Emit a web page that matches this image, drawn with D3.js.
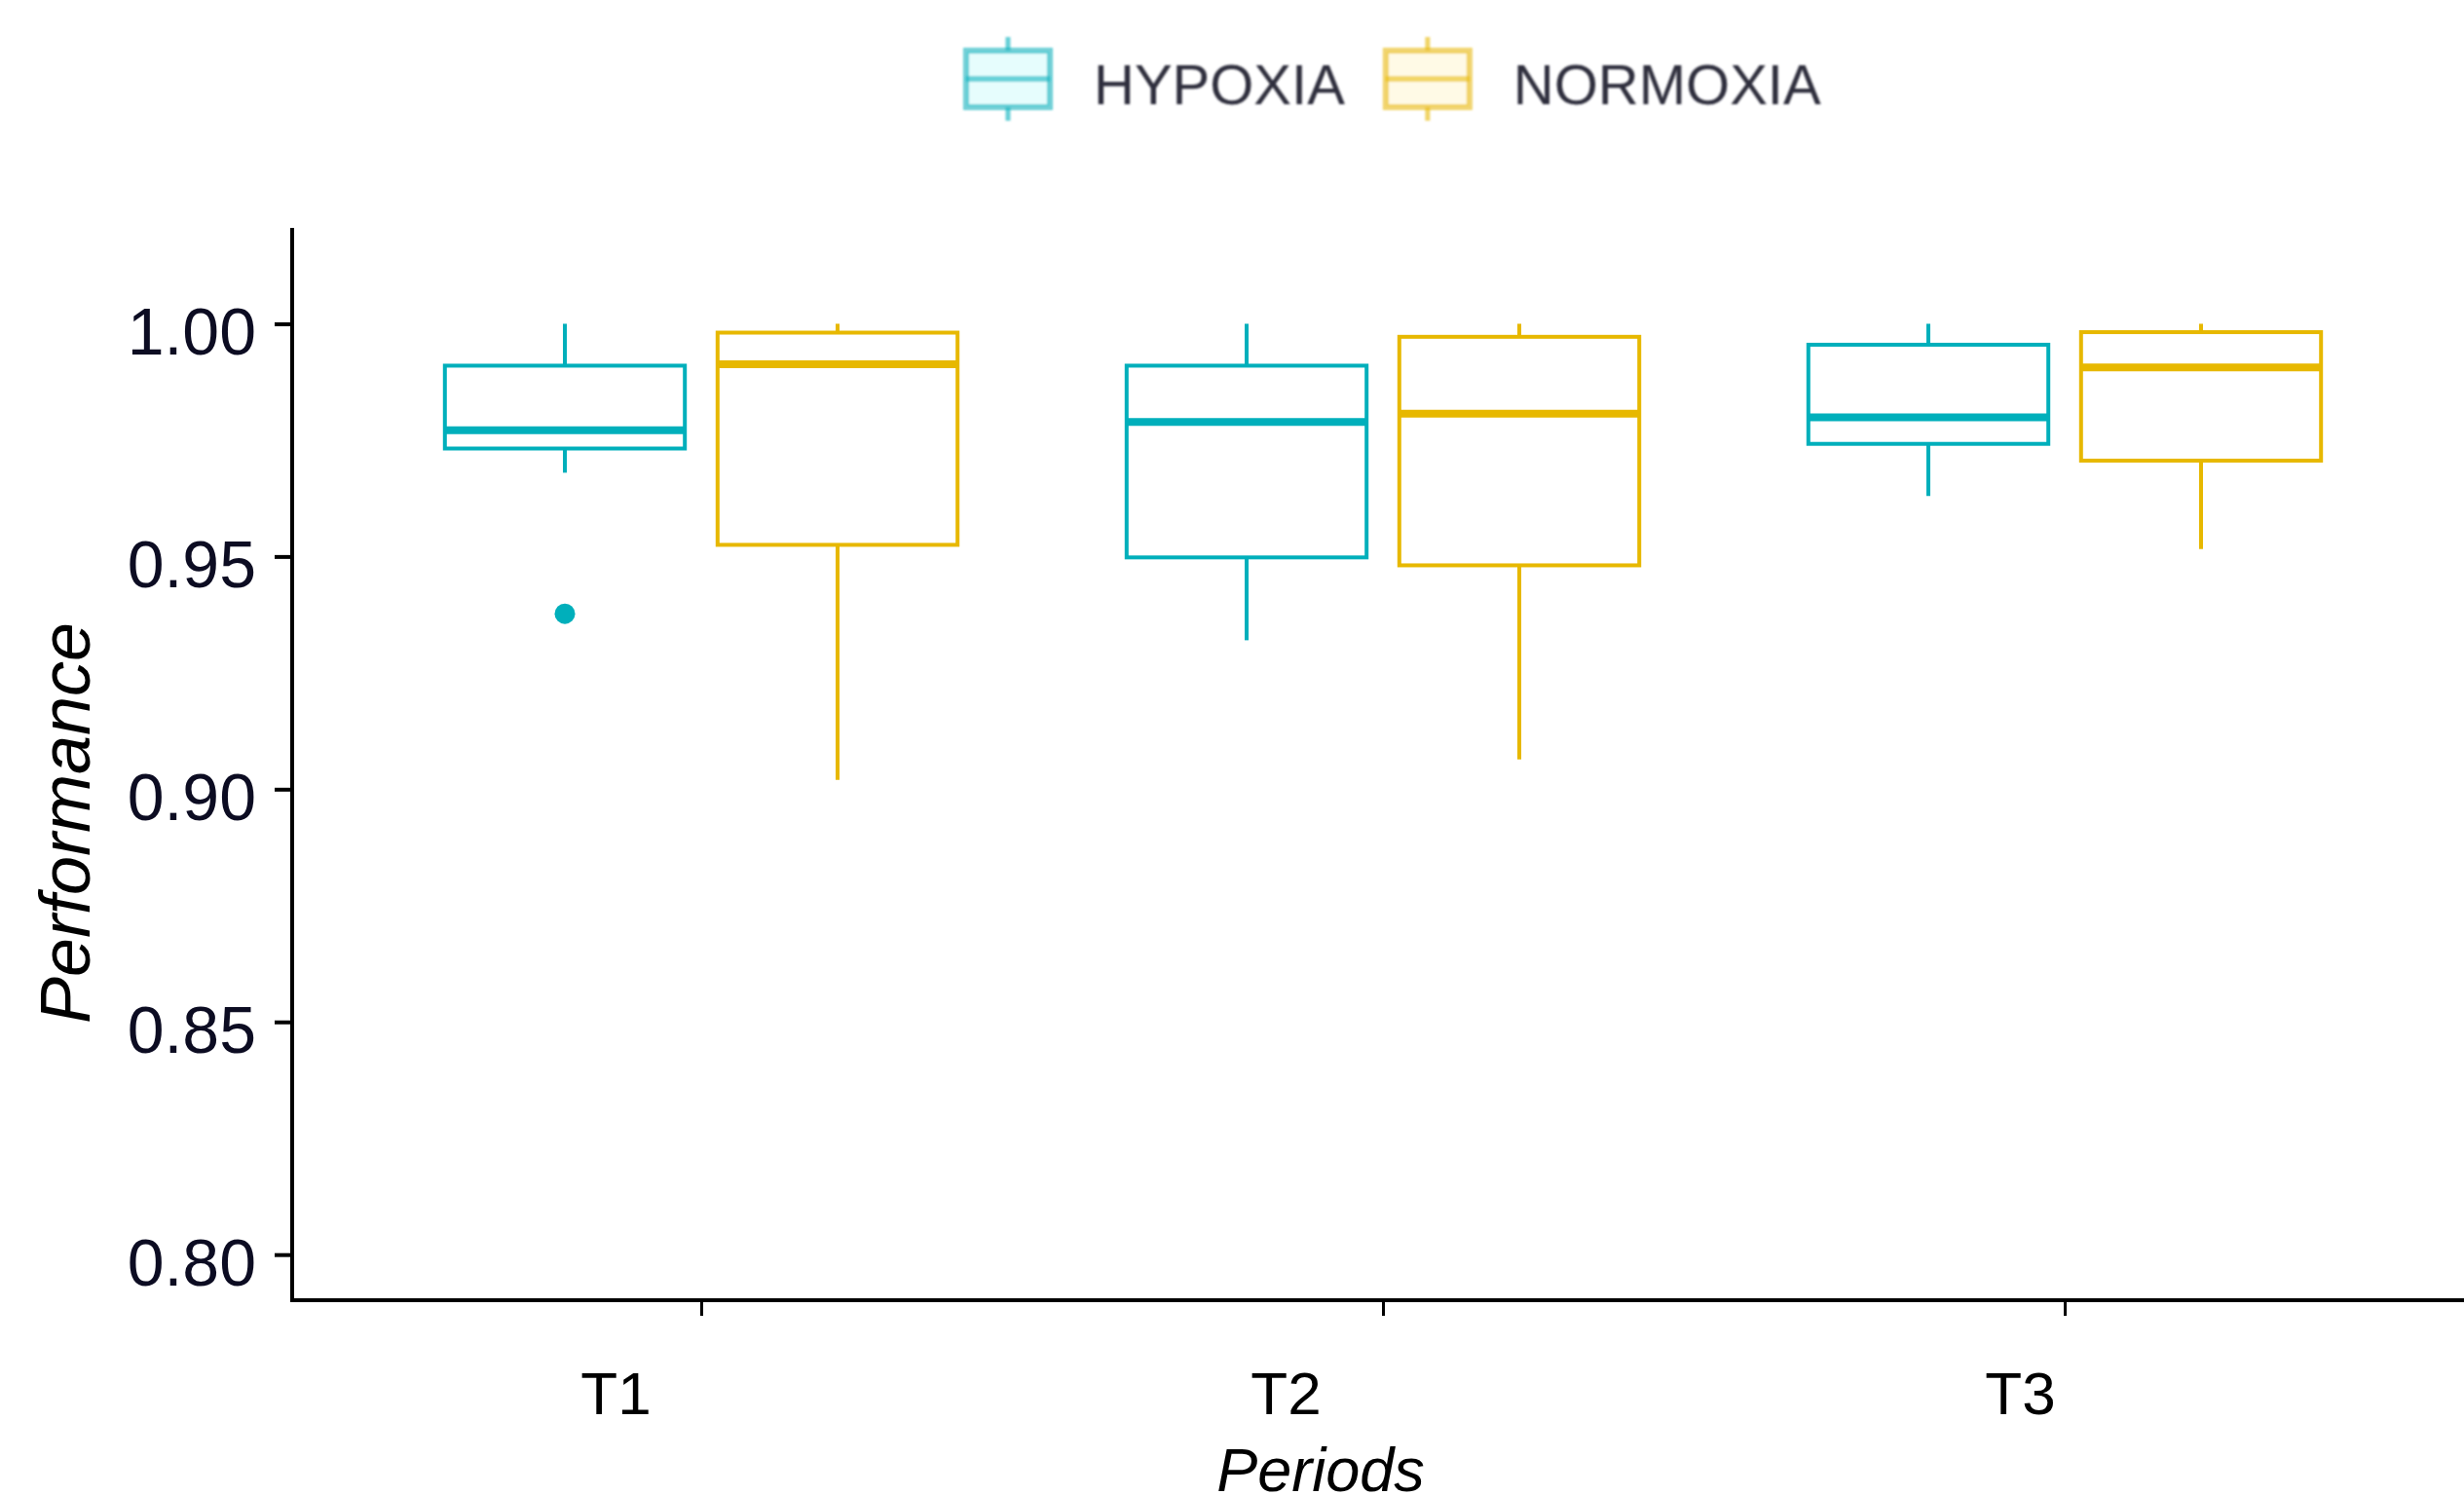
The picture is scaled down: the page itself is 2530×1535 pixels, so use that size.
<!DOCTYPE html>
<html>
<head>
<meta charset="utf-8">
<script src="https://cdn.jsdelivr.net/npm/d3@7"></script>
<style>
  html, body { margin: 0; padding: 0; background: #ffffff; }
  svg { display: block; }
</style>
</head>
<body>
<svg id="chart" width="2530" height="1535"></svg>
<script>
// ---------------- DATA ----------------
const periods = ["T1", "T2", "T3"];
const groups = ["HYPOXIA", "NORMOXIA"];
const yTicks = [0.80, 0.85, 0.90, 0.95, 1.00];

const hypoxiaLower  = [0.968, 0.932, 0.963];
const hypoxiaQ1     = [0.9732, 0.9498, 0.9742];
const hypoxiaMedian = [0.9771, 0.9789, 0.9799];
const hypoxiaQ3     = [0.991, 0.991, 0.9955];
const hypoxiaUpper  = [1.000, 1.000, 1.000];

const normoxiaLower  = [0.902, 0.9064, 0.9516];
const normoxiaQ1     = [0.9525, 0.9481, 0.9706];
const normoxiaMedian = [0.9913, 0.9807, 0.9906];
const normoxiaQ3     = [0.9981, 0.9972, 0.9982];
const normoxiaUpper  = [1.000, 1.000, 1.000];

const hypoxiaOutliers  = [{period: "T1", value: 0.9377}];
const normoxiaOutliers = [];

// ---------------- STYLE / LAYOUT ----------------
const colors = {HYPOXIA: "#00AFBB", NORMOXIA: "#E7B800"};
const keyFills = {HYPOXIA: "#e6fdfd", NORMOXIA: "#fffae6"};
const W = 2530, H = 1535;
const plot = {left: 300, right: 2540, top: 234, bottom: 1335};
const tickLabelDx = [-88, -100, -46];   // x tick label nudges as in reference
const font = "'Liberation Sans', Arial, Helvetica, sans-serif";

const stats = {
  HYPOXIA:  periods.map((p, i) => ({period: p, lo: hypoxiaLower[i], q1: hypoxiaQ1[i], med: hypoxiaMedian[i], q3: hypoxiaQ3[i], hi: hypoxiaUpper[i]})),
  NORMOXIA: periods.map((p, i) => ({period: p, lo: normoxiaLower[i], q1: normoxiaQ1[i], med: normoxiaMedian[i], q3: normoxiaQ3[i], hi: normoxiaUpper[i]}))
};
const outliers = {HYPOXIA: hypoxiaOutliers, NORMOXIA: normoxiaOutliers};

const svg = d3.select("#chart");
svg.append("rect").attr("width", W).attr("height", H).attr("fill", "#fff");

const x = d3.scalePoint().domain(periods).range([plot.left, plot.right]).padding(0.6);
const step = x.step();
const dodge = d3.scalePoint().domain(groups).range([-0.2 * step, 0.2 * step]);
const boxW = 0.352 * step;

const y = d3.scaleLinear().domain([0.7902, 1.0206]).range([plot.bottom, plot.top]);

// ---------------- BOXES ----------------
groups.forEach(g => {
  const col = colors[g];
  const gg = svg.append("g").attr("class", "series-" + g);
  const cx = d => x(d.period) + dodge(g);
  const items = gg.selectAll("g.box").data(stats[g]).join("g").attr("class", "box");
  // whiskers
  items.append("line")
    .attr("x1", cx).attr("x2", cx)
    .attr("y1", d => y(d.hi)).attr("y2", d => y(d.q3))
    .attr("stroke", col).attr("stroke-width", 4);
  items.append("line")
    .attr("x1", cx).attr("x2", cx)
    .attr("y1", d => y(d.q1)).attr("y2", d => y(d.lo))
    .attr("stroke", col).attr("stroke-width", 4);
  // box
  items.append("rect")
    .attr("x", d => cx(d) - boxW / 2)
    .attr("width", boxW)
    .attr("y", d => y(d.q3))
    .attr("height", d => y(d.q1) - y(d.q3))
    .attr("fill", "#fff").attr("stroke", col).attr("stroke-width", 4);
  // median
  items.append("line")
    .attr("x1", d => cx(d) - boxW / 2).attr("x2", d => cx(d) + boxW / 2)
    .attr("y1", d => y(d.med)).attr("y2", d => y(d.med))
    .attr("stroke", col).attr("stroke-width", 8);
  // outliers
  gg.selectAll("circle.out").data(outliers[g]).join("circle")
    .attr("class", "out")
    .attr("cx", d => x(d.period) + dodge(g))
    .attr("cy", d => y(d.value))
    .attr("r", 10.5)
    .attr("fill", col);
});

// ---------------- AXES ----------------
const yAxis = svg.append("g")
  .attr("transform", `translate(${plot.left},0)`)
  .call(d3.axisLeft(y).tickValues(yTicks).tickFormat(d3.format(".2f")).tickSize(18).tickSizeOuter(0));
yAxis.select(".domain").attr("stroke", "#000").attr("stroke-width", 4)
  .attr("d", `M0,${plot.top}V${plot.bottom + 2}`);
yAxis.selectAll(".tick line").attr("stroke", "#000").attr("stroke-width", 4);
yAxis.selectAll(".tick text")
  .attr("x", -37).attr("dy", null).attr("y", 31)
  .attr("font-family", font).attr("font-size", 68).attr("fill", "#0c0c22")
  .attr("text-anchor", "end");

const xAxis = svg.append("g")
  .attr("transform", `translate(0,${plot.bottom})`)
  .call(d3.axisBottom(x).tickSize(16).tickSizeOuter(0));
xAxis.select(".domain").attr("stroke", "#000").attr("stroke-width", 4)
  .attr("d", `M${plot.left - 2},0H${W}`);
xAxis.selectAll(".tick line").attr("stroke", "#000").attr("stroke-width", 3);
xAxis.selectAll(".tick text")
  .attr("y", 117).attr("dy", null)
  .attr("dx", (d, i) => tickLabelDx[i])
  .attr("font-family", font).attr("font-size", 62).attr("fill", "#000");
svg.selectAll(".tick").attr("font-family", null).attr("font-size", null);

// axis titles
svg.append("text")
  .attr("transform", "translate(92,845) rotate(-90)")
  .attr("text-anchor", "middle")
  .attr("font-family", font).attr("font-size", 72).attr("font-style", "italic")
  .attr("fill", "#000")
  .text("Performance");

svg.append("text")
  .attr("x", 1356).attr("y", 1531)
  .attr("text-anchor", "middle")
  .attr("font-family", font).attr("font-size", 63).attr("font-style", "italic")
  .attr("fill", "#000")
  .text("Periods");

// ---------------- LEGEND ----------------
const defs = svg.append("defs");
defs.append("filter").attr("id", "soft")
  .append("feGaussianBlur").attr("stdDeviation", 1.3);

const legend = svg.append("g").attr("filter", "url(#soft)");
const keyW = 86, keyH = 58, legendCY = 81, whiskerH = 86;
let lx = 992;
groups.forEach((g, i) => {
  const col = colors[g];
  const item = legend.append("g");
  item.append("line")
    .attr("x1", lx + keyW / 2).attr("x2", lx + keyW / 2)
    .attr("y1", legendCY - whiskerH / 2).attr("y2", legendCY + whiskerH / 2)
    .attr("stroke", col).attr("stroke-opacity", 0.6).attr("stroke-width", 5);
  item.append("rect")
    .attr("x", lx).attr("y", legendCY - keyH / 2)
    .attr("width", keyW).attr("height", keyH)
    .attr("fill", keyFills[g])
    .attr("stroke", col).attr("stroke-opacity", 0.6).attr("stroke-width", 6);
  item.append("line")
    .attr("x1", lx).attr("x2", lx + keyW)
    .attr("y1", legendCY).attr("y2", legendCY)
    .attr("stroke", col).attr("stroke-opacity", 0.55).attr("stroke-width", 6);
  const t = item.append("text")
    .attr("x", lx + keyW + 45).attr("y", legendCY + 26)
    .attr("font-family", font).attr("font-size", 58)
    .attr("fill", "#2e2e3c")
    .text(g);
  lx = lx + keyW + 45 + t.node().getComputedTextLength() + 42;
});
</script>
</body>
</html>
